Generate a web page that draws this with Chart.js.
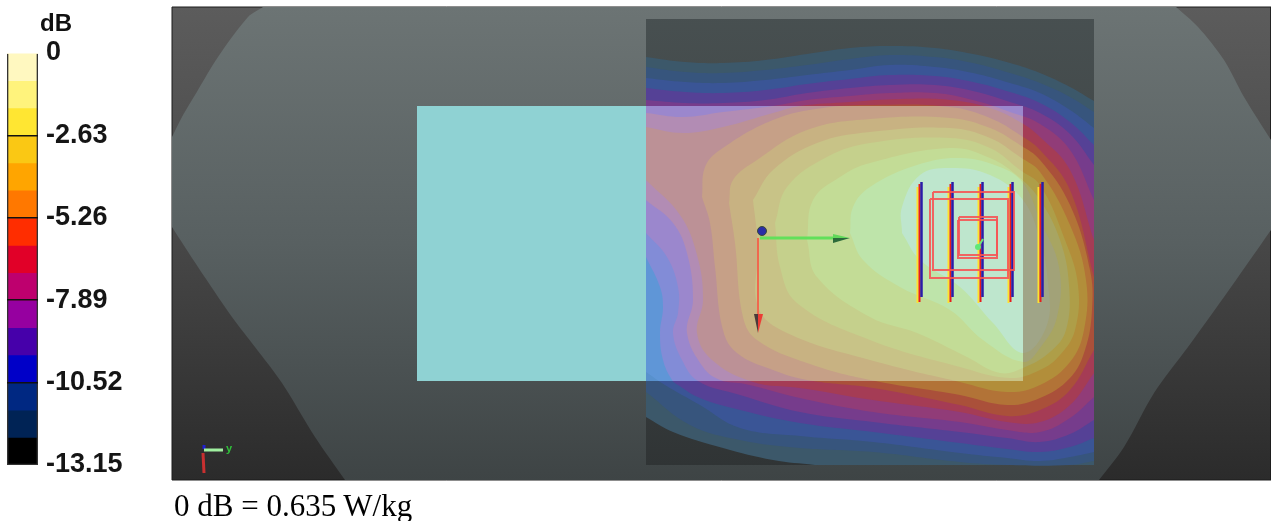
<!DOCTYPE html>
<html>
<head>
<meta charset="utf-8">
<title>SAR scan</title>
<script src="https://cdn.jsdelivr.net/npm/chart.js@4"></script>
<style>
  html, body { margin: 0; padding: 0; background: #fff; overflow: hidden; }
  canvas { position: absolute; left: 0; top: 0; filter: blur(0.5px); }
  #unit { position: absolute; left: 40px; top: 9px; font: bold 24px "Liberation Sans", sans-serif; color: #111; }
  #caption { position: absolute; left: 174px; top: 488px; font: 31px/36px "Liberation Serif", serif; color: #000; white-space: nowrap; }
  #axisY { position: absolute; left: 226px; top: 442px; font: bold 11px "Liberation Sans", sans-serif; color: #2fc23a; }
</style>
</head>
<body>
<canvas id="scan" width="1271" height="521"></canvas>
<canvas id="bar" width="170" height="521"></canvas>
<div id="unit">dB</div>
<div id="axisY">y</div>
<div id="caption">0 dB = 0.635 W/kg</div>
<script>
// colour scale
const scaleTicks = [0, -2.63, -5.26, -7.89, -10.52, -13.15];
const scaleEdges = [0, -0.88, -1.75, -2.63, -3.51, -4.38, -5.26, -6.14, -7.01, -7.89, -8.77, -9.64, -10.52, -11.4, -12.27, -13.15];
const scaleColors = ['#fff8c0', '#fff37c', '#ffe632', '#fac814', '#ffa500', '#ff7800', '#ff2d00', '#e10028',
  '#be006e', '#9600a0', '#4600aa', '#0000c8', '#002882', '#002355', '#000000'];

// scene outlines
const frame = [[172,7],[1271,7],[1271,480],[172,480],[172,7]];
const phantom = [[263,7],[263,7],[1176,7],[1176,7],[1198,27],[1224,60],[1244,97],[1271,140],[1271,140],[1271,230],[1271,230],[1224,297],[1188,347],[1154,393],[1124,447],[1099,480],[1099,480],
  [345,480],[345,480],[315,437],[282,383],[255,347],[232,317],[198,267],[172,227],[172,227],[172,137],[172,137],[182,117],[198,90],[218,57],[248,17],[263,7]];
const sheet = [[646,19],[1094,19],[1094,465],[646,465],[646,19]];
const cyanLeft = [[417,106],[646,106],[646,381],[417,381],[417,106]];
const cyanBox = { left: 646, right: 1023, top: 106, bottom: 381 };

// contour levels, outermost first
const band1 = [[646,57],[646,57],[685,62],[723,63],[765,60],[807,54],[850,48],[890,46],[935,48],[973,54],[1010,63],[1040,73],[1070,87],[1094,101],[1094,101],
  [1094,465],[1094,465],[815,465],[815,465],[773,460],[723,448],[673,432],[646,417],[646,417]];
const band2 = [[646,67],[646,67],[685,72],[723,73],[765,70],[807,65],[850,59],[890,55],[935,57],[973,63],[1010,73],[1040,83],[1070,97],[1094,112],[1094,112],
  [1094,461],[1094,461],[1070,465],[1007,465],[960,462],[873,452],[800,448],[740,440],[690,425],[646,392],[646,392]];
const band3 = [[646,78],[646,78],[685,82],[723,83],[765,80],[807,75],[850,70],[890,65],[935,67],[973,73],[1010,83],[1040,93],[1070,110],[1094,128],[1094,128],
  [1094,452],[1094,452],[1070,457],[1040,461],[1007,458],[960,453],[873,442],[800,436],[740,428],[700,405],[665,385],[646,372],[646,372]];
const band4 = [[646,88],[646,88],[685,92],[723,93],[765,90],[807,84],[850,79],[890,75],[935,76],[973,82],[1010,92],[1040,103],[1070,122],[1094,145],[1094,145],
  [1094,438],[1094,438],[1070,447],[1040,452],[1007,449],[960,443],[873,432],[800,423],[740,410],[700,398],[678,385],[672,380],[663,360],[660,333],[663,307],[660,287],[646,257],[646,257]];
const band5 = [[646,100],[646,100],[685,103],[723,103],[765,100],[807,93],[850,88],[890,85],[935,85],[973,91],[1010,102],[1040,113],[1070,134],[1094,165],[1094,165],
  [1094,420],[1094,420],[1070,434],[1040,442],[1007,438],[960,432],[873,422],[800,412],[740,395],[698,381],[682,360],[673,333],[678,313],[678,287],[667,257],[646,233],[646,233]];
const band6 = [[646,113],[646,113],[683,117],[723,112],[773,106],[807,100],[850,96],[890,93],[935,93],[973,100],[1010,112],[1040,124],[1070,150],[1094,200],[1094,200],
  [1094,397],[1094,397],[1070,418],[1040,432],[1007,430],[960,422],[873,412],[800,398],[745,384],[720,380],[703,367],[687,333],[693,300],[687,253],[673,223],[646,200],[646,200]];
const band7 = [[646,127],[646,127],[683,133],[723,127],[773,113],[800,106],[850,102],[900,99],[950,100],[990,108],[1020,122],[1040,137],[1070,170],[1094,240],[1094,240],
  [1094,373],[1094,373],[1070,405],[1040,422],[1007,422],[960,412],[873,400],[800,388],[753,382],[712,360],[697,333],[703,300],[697,255],[680,215],[646,180],[646,180]];
const band8 = [[702,197],[705,167],[720,150],[773,120],[823,108],[873,105],[950,107],[990,118],[1020,135],[1040,150],[1070,190],[1094,277],[1094,277],
  [1094,350],[1094,350],[1070,390],[1040,410],[1007,416],[960,405],[873,388],[807,380],[773,370],[737,353],[723,330],[715,267],[710,223],[702,197]];
const band9 = [[729,203],[733,180],[757,160],[807,130],[870,119],[950,118],[990,128],[1020,145],[1040,160],[1070,205],[1090,270],[1092,310],[1085,350],[1070,378],
  [1040,398],[1007,405],[960,395],[870,380],[807,363],[757,340],[743,317],[735,243],[729,203]];
const band10 = [[753,200],[773,170],[817,143],[870,132],[950,128],[990,138],[1020,157],[1040,172],[1070,225],[1086,280],[1084,330],[1070,362],
  [1040,385],[1007,392],[960,382],[870,360],[787,333],[758,307],[758,247],[753,200]];
const band11 = [[775,223],[787,187],[827,157],[870,143],[950,138],[990,148],[1020,170],[1040,185],[1065,240],[1078,285],[1075,330],[1060,355],
  [1040,370],[1010,378],[960,367],[870,340],[797,303],[780,267],[775,223]];
const band12 = [[807,240],[813,200],[840,177],[870,163],[950,148],[990,158],[1020,178],[1040,200],[1060,240],[1069,285],[1066,330],[1050,352],
  [1023,368],[1000,373],[967,357],[917,333],[870,317],[817,277],[807,240]];
const band13 = [[850,233],[853,207],[870,187],[917,165],[960,158],[1000,167],[1023,183],[1040,220],[1059,267],[1057,317],[1040,348],
  [1023,362],[983,340],[950,310],[900,287],[863,260],[850,233]];
const band14 = [[902,233],[902,207],[920,175],[950,168],[990,175],[1023,200],[1040,240],[1048,283],[1047,325],[1023,353],[993,323],[960,287],[920,260],[902,233]];
const bands = [band1, band2, band3, band4, band5, band6, band7, band8, band9, band10, band11, band12, band13, band14];
const bandColors = ['rgb(60,88,106)', 'rgb(55,85,125)', 'rgb(58,85,150)', 'rgb(85,65,150)', 'rgb(118,60,140)', 'rgb(145,60,120)', 'rgb(165,60,85)',
  'rgb(170,80,58)', 'rgb(178,115,55)', 'rgb(178,142,58)', 'rgb(174,158,72)', 'rgb(168,165,98)', 'rgb(162,162,120)', 'rgb(160,165,135)'];
// same levels seen through the cyan plate
const bandColorsCyan = ['rgb(85,140,195)', 'rgb(88,145,205)', 'rgb(95,150,215)', 'rgb(130,140,215)', 'rgb(155,135,205)', 'rgb(178,140,180)', 'rgb(188,145,150)',
  'rgb(198,160,135)', 'rgb(200,178,130)', 'rgb(200,195,135)', 'rgb(197,208,140)', 'rgb(195,220,150)', 'rgb(190,228,170)', 'rgb(190,230,205)'];

// antenna probe and wires
const probeX = [920, 951, 981, 1011, 1041];
const probeTop = 182;
const probeBottom = 302;
const wireBackOuter = [[933,192],[1014,192],[1014,270],[933,270],[933,192]];
const wireFrontOuter = [[930,199],[1008,199],[1008,278],[930,278],[930,199]];
const wireBackInner = [[959,217],[997,217],[997,255],[959,255],[959,217]];
const wireFrontInner = [[958,220],[997,220],[997,258],[958,258],[958,220]];
const feedPoint = [[978,247]];
const feedStub = [[978,247],[983,239]];

// origin marker
const originDot = [[762,231]];
const arrowY = [[760,238],[836,238]];
const arrowYHead = [[833,234],[850,238],[833,238],[833,234]];
const arrowYHeadDark = [[833,238],[850,238],[833,243],[833,238]];
const arrowX = [[758,238],[758,316]];
const arrowXHead = [[758,314],[763,314],[758,333],[758,314]];
const arrowXHeadDark = [[754,314],[758,314],[758,333],[754,314]];

// small axis icon
const iconZ = [[204,445],[204,449]];
const iconY = [[204,450],[223,450]];
const iconX = [[203,453],[204,473]];

var scanCtx = document.getElementById('scan').getContext('2d');

function vGrad(stops) {
  var g = scanCtx.createLinearGradient(0, 7, 0, 480);
  stops.forEach(function(s, i) { g.addColorStop(i / (stops.length - 1), s); });
  return g;
}

function shape(data, color, extra) {
  return Object.assign({ data: data, showLine: true, fill: 'shape', backgroundColor: color, borderWidth: 0, pointRadius: 0, tension: 0 }, extra || {});
}
function line(data, color, width) {
  return { data: data, showLine: true, fill: false, borderColor: color, borderWidth: width, pointRadius: 0, tension: 0 };
}

var sets = [];
sets.push(shape(frame, vGrad(['#5c5c5c', '#474747', '#2b2b2b']), { borderWidth: 1, borderColor: '#1c1c1c' }));
sets.push(shape(phantom, vGrad(['#6c7474', '#586061', '#3e4445']), { tension: 0.3 }));
sets.push(shape(sheet, vGrad(['#485051', '#3e4445', '#2f3334'])));
sets.push(shape(cyanLeft, '#8fd2d3'));
bands.forEach(function(b, i) {
  sets.push(shape(b, bandColors[i], { tension: 0.4 }));
});
bands.forEach(function(b, i) {
  sets.push(shape(b, bandColorsCyan[i], { tension: 0.4, inCyan: true }));
});

probeX.forEach(function(x) {
  sets.push(line([[x - 2.5, probeTop + 5], [x - 2.5, probeBottom + 1]], '#ffe22e', 2));
  sets.push(line([[x - 0.5, probeTop + 2], [x - 0.5, probeBottom]], '#e81c1c', 2));
  sets.push(line([[x + 1.5, probeTop], [x + 1.5, probeBottom - 5]], '#2a1ca8', 2.5));
});
[wireBackOuter, wireFrontOuter, wireBackInner, wireFrontInner].forEach(function(w) {
  sets.push(line(w, 'rgba(245,85,85,0.9)', 2));
});
sets.push(line(feedStub, '#6fe87a', 2));
sets.push({ data: feedPoint, pointRadius: 3, pointBackgroundColor: '#5fe878', pointBorderWidth: 0 });

sets.push(line(arrowY, '#62e05a', 3));
sets.push(shape(arrowYHead, '#62d85a'));
sets.push(shape(arrowYHeadDark, '#2c6a3a'));
sets.push(line(arrowX, '#f0684e', 2));
sets.push(shape(arrowXHead, '#ec3c34'));
sets.push(shape(arrowXHeadDark, '#4a3a3a'));
sets.push({ data: originDot, pointRadius: 4.5, pointBackgroundColor: '#2b2ea6', pointBorderColor: '#3a4a3a', pointBorderWidth: 1 });

sets.push(line(iconZ, '#2020d0', 3));
sets.push(line(iconY, '#a0f0a0', 3));
sets.push(line(iconX, '#c83030', 3));

// chart.js draws the last dataset first, and filler runs before inline plugins,
// so the clip for a dataset is set up after the one drawn before it
sets.reverse();
const cyanClip = {
  id: 'cyanClip',
  afterDatasetDraw: function(chart, args) {
    const ds = chart.data.datasets;
    const ctx = chart.ctx;
    if (ds[args.index].inCyan) ctx.restore();
    const next = ds[args.index - 1];
    if (next && next.inCyan) {
      const x = chart.scales.x, y = chart.scales.y;
      ctx.save();
      ctx.beginPath();
      ctx.rect(x.getPixelForValue(cyanBox.left), y.getPixelForValue(cyanBox.top),
        x.getPixelForValue(cyanBox.right) - x.getPixelForValue(cyanBox.left),
        y.getPixelForValue(cyanBox.bottom) - y.getPixelForValue(cyanBox.top));
      ctx.clip();
    }
  }
};

new Chart(scanCtx, {
  type: 'scatter',
  data: { datasets: sets },
  plugins: [cyanClip],
  options: {
    responsive: false,
    animation: false,
    events: [],
    layout: { padding: 0, autoPadding: false },
    plugins: { legend: { display: false }, tooltip: { enabled: false } },
    scales: {
      x: { type: 'linear', display: false, min: 0, max: 1271 },
      y: { type: 'linear', display: false, min: 0, max: 521, reverse: true }
    }
  }
});

var barSets = scaleColors.map(function(c, i) {
  return { data: [[scaleEdges[i + 1], scaleEdges[i]]], backgroundColor: c, barPercentage: 1, categoryPercentage: 1, grouped: false };
});
barSets.unshift({ data: [[scaleEdges[15], scaleEdges[0]]], backgroundColor: 'rgba(0,0,0,0)', borderColor: '#333', borderWidth: 1,
  barPercentage: 1, categoryPercentage: 1, grouped: false });

new Chart(document.getElementById('bar').getContext('2d'), {
  type: 'bar',
  data: { labels: [''], datasets: barSets },
  options: {
    responsive: false,
    animation: false,
    events: [],
    layout: { padding: { left: 7, top: 53, bottom: 56 } },
    plugins: { legend: { display: false }, tooltip: { enabled: false } },
    scales: {
      x: { display: false },
      y: {
        position: 'right',
        min: -13.15,
        max: 0,
        afterBuildTicks: function(scale) { scale.ticks = scaleTicks.map(function(v) { return { value: v }; }); },
        afterFit: function(scale) { scale.width = 132; },
        border: { display: false },
        grid: { color: function(c) { return c.tick && (c.tick.value === 0 || c.tick.value === -13.15) ? 'rgba(0,0,0,0)' : '#111'; }, lineWidth: 1.5, z: 1, drawTicks: false },
        ticks: {
          autoSkip: false,
          padding: 8,
          color: '#151515',
          font: { family: '"Liberation Sans", sans-serif', weight: 'bold', size: 27 },
          callback: function(v) { return String(v); }
        }
      }
    }
  }
});
</script>
</body>
</html>
